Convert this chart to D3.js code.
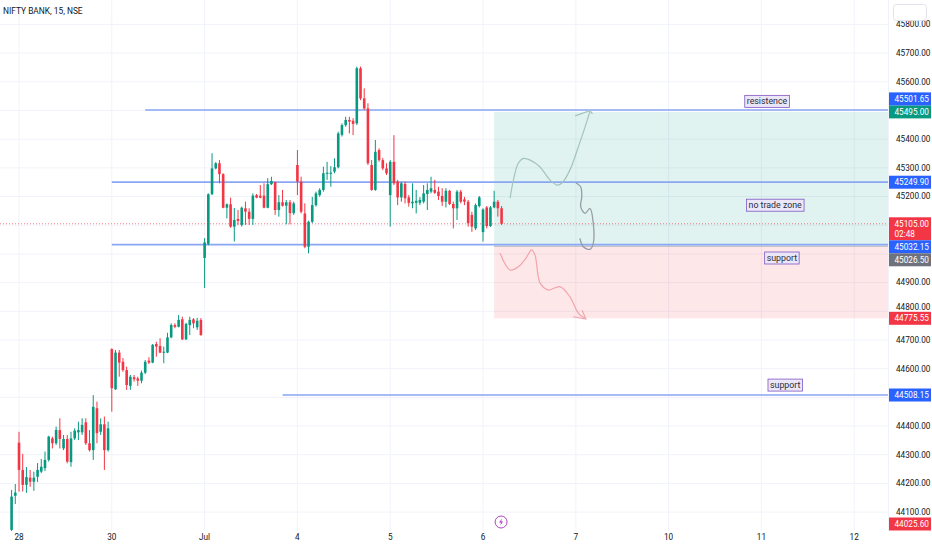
<!DOCTYPE html>
<html><head><meta charset="utf-8">
<script src="https://cdn.jsdelivr.net/npm/d3@7"></script>
<style>
body{margin:0;background:#fff;}
svg{display:block;font-family:Roboto,"Liberation Sans",sans-serif;}
</style>
</head><body>
<svg id="c" width="932" height="550"></svg>
<script>
// ---------- DATA ----------
const title = "NIFTY BANK, 15, NSE";
const opens = [44038,44157,44342,44247,44195,44220,44206,44223,44241,44253,44282,44357,44340,44386,44322,44355,44274,44357,44378,44378,44413,44340,44316,44462,44380,44406,44316,
44668,44528,44656,44624,44595,44540,44570,44566,44558,44586,44628,44621,44686,44679,44656,44656,44709,44752,44746,44772,44702,44752,44772,44744,44770,
44986,45035,45208,45298,45316,45278,45161,45173,45095,45122,45101,45159,45147,45122,45205,45203,45203,45161,45243,45250,45153,45180,45168,45180,45142,
45310,45252,45141,45025,45112,45170,45205,45223,45279,45279,45287,45302,45415,45449,45467,45464,45455,45647,45542,45507,45310,45223,45362,45327,45298,
45205,45321,45252,45197,45244,45197,45176,45178,45178,45182,45209,45217,45223,45217,45202,45182,45220,45174,45159,45217,45190,45182,45136,45089,45167,
45076,45162,45097,45162,45182,45159];
const highs = [44177,44198,44380,44303,44257,44247,44241,44271,44285,44311,44366,44363,44398,44427,44369,44369,44380,44392,44415,44427,44427,44386,44508,44485,44427,44433,44415,
44671,44665,44665,44637,44607,44578,44578,44572,44593,44630,44640,44686,44694,44706,44677,44725,44758,44758,44787,44781,44760,44781,44776,44777,44776,
45055,45211,45351,45320,45327,45281,45176,45196,45160,45153,45165,45182,45159,45211,45209,45240,45246,45264,45269,45252,45205,45223,45188,45188,45182,
45362,45269,45176,45116,45199,45217,45229,45304,45321,45306,45333,45426,45455,45478,45478,45473,45653,45653,45577,45525,45327,45397,45368,45334,45316,
45327,45414,45258,45252,45252,45205,45246,45223,45198,45240,45246,45269,45258,45234,45229,45229,45223,45182,45223,45223,45199,45188,45147,45176,45202,
45159,45167,45167,45220,45188,45167];
const lows = [44026,44128,44171,44172,44167,44188,44174,44205,44236,44243,44276,44322,44334,44322,44316,44270,44258,44351,44351,44369,44334,44311,44282,44340,44369,44247,44311,
44450,44526,44572,44589,44526,44526,44555,44540,44549,44581,44616,44619,44642,44654,44619,44654,44706,44741,44744,44700,44700,44717,44741,44735,44715,
44881,45030,45205,45295,45246,45159,45124,45091,45043,45101,45095,45101,45101,45101,45194,45194,45159,45159,45240,45136,45130,45165,45103,45103,45136,
45205,45141,45020,45002,45107,45165,45199,45217,45258,45234,45281,45298,45409,45443,45420,45414,45449,45536,45502,45310,45220,45220,45321,45292,45275,
45095,45240,45170,45182,45176,45165,45159,45141,45170,45176,45153,45211,45209,45188,45167,45162,45170,45089,45118,45176,45170,45095,45077,45083,45162,
45043,45089,45094,45159,45130,45101];
const closes = [44154,44168,44247,44195,44222,44206,44220,44247,44258,44282,44363,44340,44386,44355,44355,44276,44357,44384,44386,44404,44340,44316,44467,44375,44406,44316,44392,
44532,44656,44621,44595,44543,44572,44563,44558,44586,44624,44621,44683,44677,44656,44659,44709,44752,44746,44770,44702,44756,44770,44758,44767,44717,
45040,45208,45298,45316,45278,45161,45173,45095,45118,45115,45161,45147,45122,45203,45196,45196,45161,45243,45254,45153,45180,45168,45180,45142,45176,
45252,45147,45025,45112,45170,45211,45223,45281,45283,45283,45302,45420,45449,45467,45461,45453,45647,45542,45507,45316,45223,45356,45327,45298,45281,
45321,45246,45197,45246,45194,45178,45182,45185,45188,45211,45223,45229,45213,45202,45182,45220,45174,45159,45217,45182,45182,45107,45095,45170,45197,
45155,45097,45162,45182,45159,45105];

const dayLabels = ["28","30","Jul","4","5","6","7","10","11","12"];
const dayStartBars = [2,27,52,77,102,127,152,177,202,227];
const priceTicks = d3.range(44100, 45801, 100);

const levelPrices = [45501.65, 45249.90, 45032.15, 44508.15];
const levelStartBars = [36, 27, 27, 73];

const posStartBar = 130;
const posEntry = 45026.50, posTarget = 45495.00, posStop = 44775.55;

const lastPrice = 45105.00, countdown = "02:48";
const lowPrice = 44025.60;

const noteTexts = ["resistence", "no trade zone", "support", "support"];
const noteBars = [203.5, 205.7, 207.5, 208.4];
const notePrices = [45532, 45170, 44986, 44543];

// freehand drawings, [bar, price]
const drawUp = [[134.3,45194],[135.2,45258],[136.5,45316],[137.9,45333],[139.7,45327],[142.3,45304],[145.0,45258],[146.9,45240],[148.2,45246],[150.4,45292],[152.7,45374],[154.5,45443],[155.8,45496]];
const drawUpHead = [[151.8,45481],[155.8,45499],[156.5,45488]];
const drawMid = [[152.0,45248],[153.3,45234],[153.6,45199],[153.3,45165],[154.5,45141],[155.8,45159],[156.7,45107],[156.7,45037],[155.8,45016],[154.0,45025],[153.1,45054]];
const drawDown = [[131.6,45002],[134.3,44944],[136.5,44955],[138.6,44986],[140.1,45014],[141.0,44996],[142.4,44898],[144.6,44874],[147.7,44886],[150.4,44851],[152.7,44793],[154.5,44775]];
const drawDownHead = [[151.3,44781],[154.7,44773],[153.7,44804]];

// ---------- CHART ----------
const W = 932, H = 550, plotR = 888, plotB = 531;
const svg = d3.select("#c");
const x = d3.scaleLinear().domain([-3.12, 236.1]).range([0, plotR]);
const y = d3.scaleLinear().domain([45800, 44100]).range([24.4, 512.1]);
const green = "#089981", red = "#f23645", blue = "#2962ff";

svg.append("defs").append("clipPath").attr("id","clip").append("rect").attr("x",0).attr("y",0).attr("width",plotR).attr("height",plotB);

// grid
const grid = svg.append("g");
grid.selectAll("line.h").data(priceTicks).join("line")
  .attr("x1",0).attr("x2",plotR).attr("y1",d=>y(d)).attr("y2",d=>y(d))
  .attr("stroke","#f0f3fa").attr("stroke-width",1);
grid.selectAll("line.v").data(dayStartBars).join("line")
  .attr("x1",d=>x(d)).attr("x2",d=>x(d)).attr("y1",0).attr("y2",plotB)
  .attr("stroke","#f0f3fa").attr("stroke-width",1);

const plot = svg.append("g").attr("clip-path","url(#clip)");

// position tool boxes
plot.append("rect").attr("x",x(posStartBar)).attr("width",plotR-x(posStartBar))
  .attr("y",y(posTarget)).attr("height",y(posEntry)-y(posTarget))
  .attr("fill","rgba(8,153,129,0.12)");
plot.append("rect").attr("x",x(posStartBar)).attr("width",plotR-x(posStartBar))
  .attr("y",y(posEntry)).attr("height",y(posStop)-y(posEntry))
  .attr("fill","rgba(242,54,69,0.12)");
plot.append("line").attr("x1",x(posStartBar)).attr("x2",plotR)
  .attr("y1",y(posEntry)).attr("y2",y(posEntry)).attr("stroke","#9598a1").attr("stroke-width",1).attr("opacity",0.6);

// horizontal rays
plot.selectAll("line.lvl").data(levelPrices).join("line")
  .attr("x1",(d,i)=>x(levelStartBars[i])).attr("x2",plotR)
  .attr("y1",d=>y(d)).attr("y2",d=>y(d))
  .attr("stroke","#8aa6f5").attr("stroke-width",1.7);

// current price dotted line
plot.append("line").attr("x1",0).attr("x2",plotR).attr("y1",y(lastPrice)).attr("y2",y(lastPrice))
  .attr("stroke",red).attr("stroke-width",0.8).attr("stroke-dasharray","1,2").attr("opacity",0.8);

// candles
const bars = d3.range(opens.length);
const bw = 2.6;
const cg = plot.append("g");
cg.selectAll("line.w").data(bars).join("line")
  .attr("x1",i=>x(i)).attr("x2",i=>x(i))
  .attr("y1",i=>y(highs[i])).attr("y2",i=>y(lows[i]))
  .attr("stroke",i=>closes[i]>=opens[i]?green:red).attr("stroke-width",1);
cg.selectAll("rect.b").data(bars).join("rect")
  .attr("x",i=>x(i)-bw/2).attr("width",bw)
  .attr("y",i=>y(Math.max(opens[i],closes[i])))
  .attr("height",i=>Math.max(1,Math.abs(y(opens[i])-y(closes[i]))))
  .attr("fill",i=>closes[i]>=opens[i]?green:red);

// drawings
const ln = d3.line().x(d=>x(d[0])).y(d=>y(d[1])).curve(d3.curveCatmullRom);
const lnS = d3.line().x(d=>x(d[0])).y(d=>y(d[1]));
plot.append("path").attr("d",ln(drawUp)).attr("fill","none").attr("stroke","#a3c4ba").attr("stroke-width",1.2);
plot.append("path").attr("d",lnS(drawUpHead)).attr("fill","none").attr("stroke","#a3c4ba").attr("stroke-width",1.2);
plot.append("path").attr("d",ln(drawMid)).attr("fill","none").attr("stroke","#969ca5").attr("stroke-width",1.3);
plot.append("path").attr("d",ln(drawDown)).attr("fill","none").attr("stroke","#f2a4ad").attr("stroke-width",1.2);
plot.append("path").attr("d",lnS(drawDownHead)).attr("fill","none").attr("stroke","#f2a4ad").attr("stroke-width",1.2);

// notes
const notes = plot.selectAll("g.note").data(noteTexts).join("g")
  .attr("transform",(d,i)=>`translate(${x(noteBars[i])},${y(notePrices[i])})`);
notes.each(function(d){
  const g = d3.select(this);
  const t = g.append("text").text(d).attr("text-anchor","middle").attr("dy","0.35em")
    .attr("font-size",8.8).attr("fill","#2a2e39");
  const bb = t.node().getBBox();
  g.insert("rect","text").attr("x",bb.x-2).attr("y",bb.y-1).attr("width",bb.width+4).attr("height",bb.height+2)
    .attr("fill","#ebe7f8").attr("stroke","#7e57c2").attr("stroke-width",0.8);
});

// lightning icon
const ic = svg.append("g").attr("transform",`translate(${x(132)-0.5},522)`);
ic.append("circle").attr("r",6).attr("fill","#fff").attr("stroke","#ab47bc").attr("stroke-width",1);
ic.append("path").attr("d","M0.8,-3.6 L-2,0.6 L-0.1,0.6 L-0.8,3.6 L2,-0.6 L0.1,-0.6 Z").attr("fill","#ab47bc");

// price axis
svg.append("line").attr("x1",plotR+0.5).attr("x2",plotR+0.5).attr("y1",0).attr("y2",plotB).attr("stroke","#f0f3fa");

// axis labels with overlap avoidance
const axisLabels = [
  {v:lowPrice, fill:red, lines:[d3.format(".2f")(lowPrice)]},
  {v:lastPrice, fill:red, lines:[d3.format(".2f")(lastPrice), countdown]},
  {v:posTarget, fill:green, lines:[d3.format(".2f")(posTarget)]},
  {v:levelPrices[2], fill:blue, lines:[d3.format(".2f")(levelPrices[2])]},
  {v:levelPrices[1], fill:blue, lines:[d3.format(".2f")(levelPrices[1])]},
  {v:levelPrices[3], fill:blue, lines:[d3.format(".2f")(levelPrices[3])]},
  {v:posStop, fill:red, lines:[d3.format(".2f")(posStop)]},
  {v:levelPrices[0], fill:blue, lines:[d3.format(".2f")(levelPrices[0])]},
  {v:posEntry, fill:"#6f727d", lines:[d3.format(".2f")(posEntry)]}
];
const placed = [];
const lh = 13;
axisLabels.forEach(L=>{
  const h = lh + (L.lines.length-1)*10;
  let yc = Math.min(y(L.v), plotB - 7);
  const top0 = yc - lh/2;
  const ok = t => placed.every(p => t+h <= p.top || t >= p.top+p.h);
  let best = top0;
  if(!ok(top0)){
    const cands = [];
    placed.forEach(p=>{cands.push(p.top - h); cands.push(p.top + p.h);});
    const good = cands.filter(ok).sort((a,b)=>Math.abs(a-top0)-Math.abs(b-top0));
    best = good[0];
  }
  placed.push({top:best,h:h});
  L.top = best; L.h = h;
});

// tick labels: hide those covered by a coloured label, nudge slightly overlapped ones
const th = 8;
const pa = svg.append("g");
priceTicks.forEach(v=>{
  let yc = y(v);
  let hidden = false;
  placed.forEach(p=>{
    const ov = Math.min(yc+th/2, p.top+p.h) - Math.max(yc-th/2, p.top);
    if(ov > 0){
      if(ov <= 4 && yc < p.top + p.h/2){ yc = p.top - th/2 - 0.2; }
      else hidden = true;
    }
  });
  if(!hidden){
    pa.append("text").attr("x",896).attr("y",yc).attr("dy","0.35em")
      .attr("font-size",8.2).attr("fill","#131722").text(d3.format(".2f")(v));
  }
});

axisLabels.forEach(L=>{
  const g = svg.append("g");
  g.append("rect").attr("x",889).attr("y",L.top).attr("width",42).attr("height",L.h).attr("fill",L.fill);
  L.lines.forEach((s,k)=>{
    g.append("text").attr("x",894.5).attr("y",L.top+lh/2+k*10).attr("dy","0.35em")
      .attr("font-size",8.2).attr("fill","#fff").text(s);
  });
});

// time axis
svg.selectAll("text.day").data(dayLabels).join("text")
  .attr("x",(d,i)=>x(dayStartBars[i])).attr("y",540)
  .attr("text-anchor","middle").attr("font-size",8.2).attr("fill","#131722").text(d=>d);

// title
svg.append("text").attr("x",3).attr("y",14).attr("font-size",8.4).attr("fill","#131722").text(title);

// top-right box
svg.append("rect").attr("x",893.5).attr("y",4.5).attr("width",33).attr("height",16).attr("rx",3)
  .attr("fill","#fff").attr("stroke","#e0e3eb");
</script>
</body></html>
